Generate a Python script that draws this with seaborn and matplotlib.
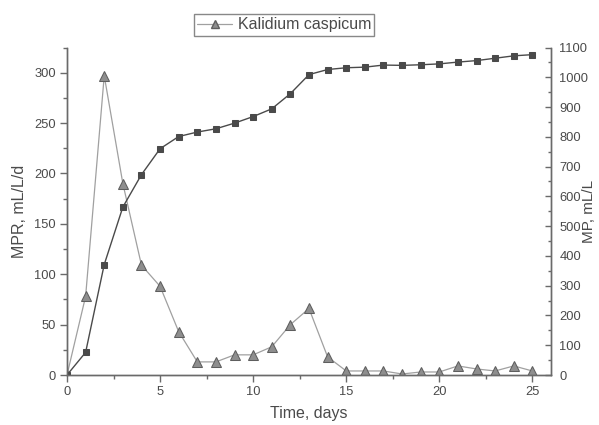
import matplotlib
matplotlib.use("Agg")
import matplotlib.pyplot as plt
import seaborn as sns
from matplotlib.ticker import MultipleLocator
from matplotlib.lines import Line2D

# data
days = list(range(26))
mpr = [0, 78, 297, 190, 109, 88, 43, 13, 13, 20, 20, 28, 50, 66, 18,
       4, 4, 4, 1, 3, 3, 9, 6, 4, 9, 4]
mp = [0, 76, 371, 564, 673, 760, 801, 816, 827, 846, 868, 894, 945, 1009, 1026,
      1032, 1034, 1041, 1040, 1042, 1045, 1051, 1056, 1064, 1072, 1076]
legend_label = "Kalidium caspicum"

sns.set_style("ticks")
plt.rcParams['font.family'] = ['Liberation Sans', 'DejaVu Sans']

txt = "#4a4a4a"
axc = "#6a6a6a"
tri_face = "#8e8e8e"
tri_edge = "#5e5e5e"
tri_line = "#a0a0a0"
sq_color = "#4a4a4a"

fig = plt.figure(figsize=(5.99, 4.25), dpi=100)
ax = fig.add_axes([67 / 599, 1 - 375 / 425, (551 - 67) / 599, (375 - 47.5) / 425])
ax2 = ax.twinx()

sns.lineplot(x=days, y=mp, ax=ax2, marker='s', markersize=5, color=sq_color,
             markeredgecolor=sq_color, linewidth=1.0)
sns.lineplot(x=days, y=mpr, ax=ax, marker='^', markersize=7, color=tri_line,
             markerfacecolor=tri_face, markeredgecolor=tri_edge, linewidth=0.9)

ax.set_xlim(0, 26)
ax.set_ylim(0, 325)
ax2.set_ylim(0, 1100)

ax.xaxis.set_major_locator(MultipleLocator(5))
ax.xaxis.set_minor_locator(MultipleLocator(2.5))
ax.yaxis.set_major_locator(MultipleLocator(50))
ax.yaxis.set_minor_locator(MultipleLocator(25))
ax2.yaxis.set_major_locator(MultipleLocator(100))
ax2.yaxis.set_minor_locator(MultipleLocator(50))

for a in (ax, ax2):
    a.spines['top'].set_visible(False)
    for s in a.spines.values():
        s.set_color(axc)
        s.set_linewidth(1.0)

ax.tick_params(axis='both', which='major', direction='out', length=5, width=1,
               color=axc, labelcolor=txt, labelsize=9.3, pad=3)
ax.tick_params(axis='both', which='minor', direction='out', length=3, width=1, color=axc)
ax2.tick_params(axis='y', which='major', direction='in', length=4, width=1,
                color=axc, labelcolor=txt, labelsize=9.3, pad=6)
ax2.tick_params(axis='y', which='minor', direction='in', length=2.5, width=1, color=axc)

ax.set_xlabel("Time, days", fontsize=11.5, color=txt, labelpad=6)
ax.set_ylabel("MPR, mL/L/d", fontsize=11.5, color=txt, labelpad=5)
ax2.set_ylabel("MP, mL/L", fontsize=11, color=txt)
ax2.yaxis.set_label_coords((582 - 67) / 484, 0.5)

handle = Line2D([], [], color=tri_line, linewidth=0.9, marker='^', markersize=5.5,
                markerfacecolor=tri_face, markeredgecolor=tri_edge)
leg = fig.legend([handle], [legend_label], loc='center', bbox_to_anchor=(284 / 599, 1 - 25 / 425),
                 fontsize=11.5, frameon=True, fancybox=False, handlelength=2.2,
                 borderpad=0.2, handletextpad=0.35, labelcolor=txt)
leg.get_frame().set_edgecolor(axc)
leg.get_frame().set_linewidth(1.0)

fig.savefig("out.png", dpi=100)
